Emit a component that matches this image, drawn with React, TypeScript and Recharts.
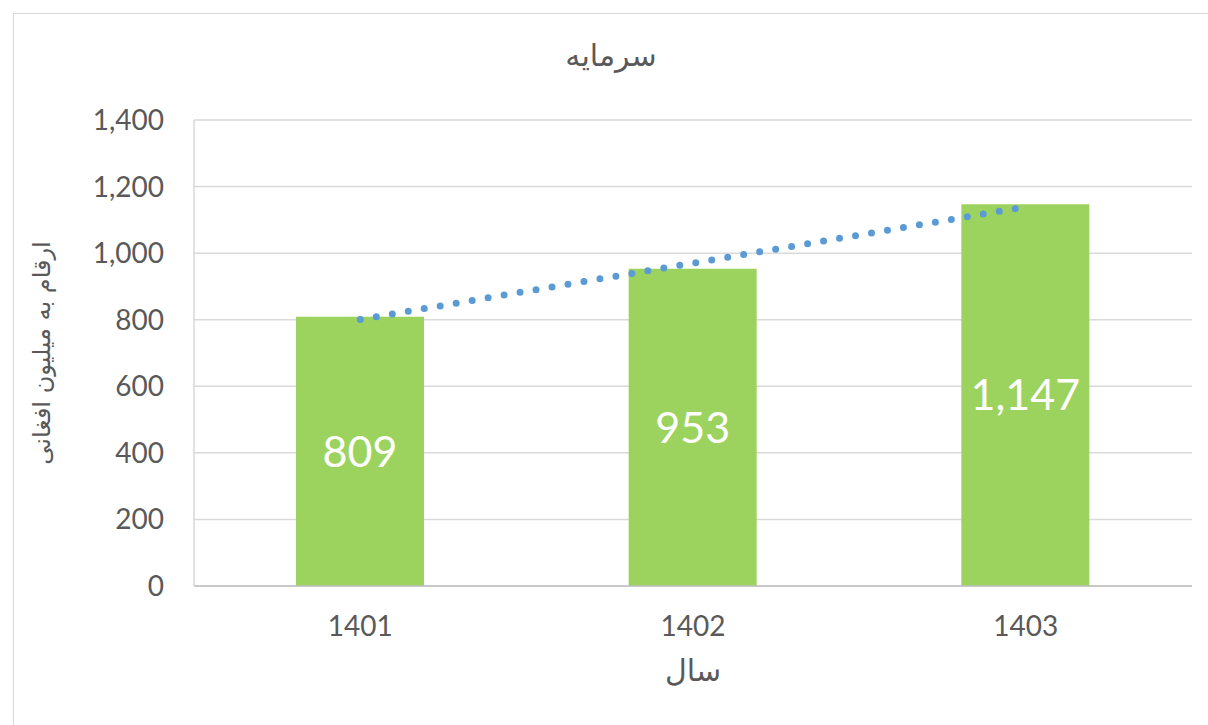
import React from 'react';
import { ComposedChart, Bar, Line, XAxis, YAxis, CartesianGrid, LabelList } from 'recharts';

const years = ['1401', '1402', '1403'];
const capital = [809, 953, 1147];
// dotted linear trend line
const trend = [801, 970, 1139];
const yTicks = [0, 200, 400, 600, 800, 1000, 1200, 1400];

const data = years.map((year, i) => ({ year, capital: capital[i], trend: trend[i] }));

const numFont = 'Lato, "DejaVu Sans", sans-serif';
const arFont = '"DejaVu Sans", sans-serif';
const textGray = '#595959';

const fmt = (v: number) => v.toLocaleString('en-US');

export default function App() {
  return (
    <div style={{ position: 'absolute', left: 0, top: 0, width: 1208, height: 725, overflow: 'hidden', background: '#fff' }}>
      <div
        style={{
          position: 'absolute',
          left: 13,
          top: 13,
          width: 1210,
          height: 730,
          border: '1.5px solid #d9d9d9',
        }}
      />
      <div
        style={{
          position: 'absolute',
          left: 411,
          width: 400,
          top: 38,
          textAlign: 'center',
          direction: 'rtl',
          fontFamily: arFont,
          fontSize: 30,
          color: textGray,
        }}
      >
        سرمایه
      </div>
      <div
        style={{
          position: 'absolute',
          left: 42 - 150,
          top: 353 - 15,
          width: 300,
          height: 30,
          lineHeight: '30px',
          textAlign: 'center',
          direction: 'rtl',
          transform: 'rotate(-90deg)',
          fontFamily: arFont,
          fontSize: 24,
          color: textGray,
        }}
      >
        ارقام به میلیون افغانی
      </div>
      <div
        style={{
          position: 'absolute',
          left: 693 - 100,
          width: 200,
          top: 653,
          textAlign: 'center',
          direction: 'rtl',
          fontFamily: arFont,
          fontSize: 30,
          color: textGray,
        }}
      >
        سال
      </div>
      <div style={{ position: 'absolute', left: 0, top: 0 }}>
        <ComposedChart width={1208} height={725} data={data} margin={{ top: 120, right: 16, bottom: 39, left: 0 }}>
          <CartesianGrid vertical={false} stroke="#d9d9d9" strokeWidth={1.5} />
          <XAxis
            dataKey="year"
            height={100}
            tickLine={false}
            tickSize={0}
            tickMargin={30}
            axisLine={{ stroke: '#bfbfbf', strokeWidth: 1.5 }}
            tick={{ fill: textGray, fontSize: 28, fontFamily: numFont }}
          />
          <YAxis
            width={194}
            domain={[0, 1400]}
            ticks={yTicks}
            tickLine={false}
            tickSize={0}
            tickMargin={30}
            axisLine={{ stroke: '#d9d9d9', strokeWidth: 1.5 }}
            tickFormatter={fmt}
            tick={{ fill: textGray, fontSize: 28, fontFamily: numFont }}
          />
          <Bar dataKey="capital" fill="#9cd35e" barSize={128} isAnimationActive={false}>
            <LabelList
              dataKey="capital"
              position="center"
              formatter={(v: any) => fmt(Number(v))}
              fill="#ffffff"
              fontSize={43}
              fontFamily={numFont}
            />
          </Bar>
          <Line
            type="linear"
            dataKey="trend"
            stroke="#5b9bd5"
            strokeWidth={7}
            strokeDasharray="0 16.2"
            strokeLinecap="round"
            dot={false}
            activeDot={false}
            isAnimationActive={false}
          />
        </ComposedChart>
      </div>
    </div>
  );
}
